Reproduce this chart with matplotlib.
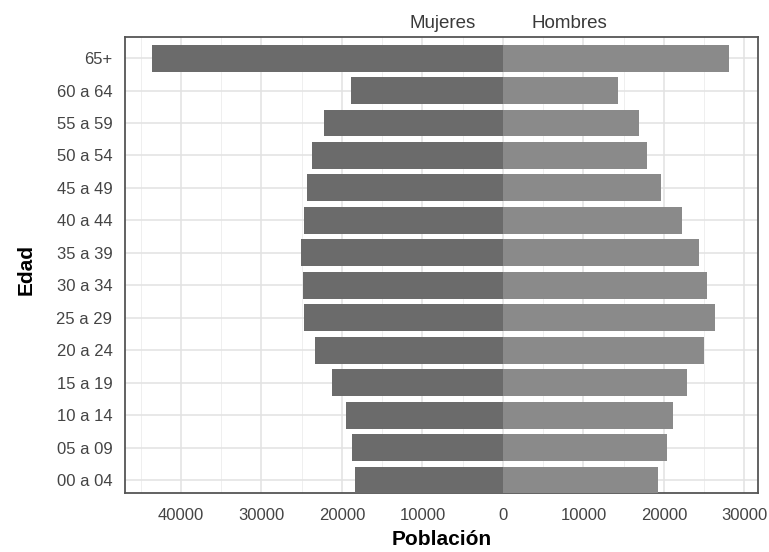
import matplotlib
matplotlib.use("Agg")
import matplotlib.pyplot as plt
import numpy as np

plt.rcParams['font.family'] = ['Liberation Sans', 'DejaVu Sans']

edades = ["00 a 04", "05 a 09", "10 a 14", "15 a 19", "20 a 24", "25 a 29", "30 a 34",
          "35 a 39", "40 a 44", "45 a 49", "50 a 54", "55 a 59", "60 a 64", "65+"]
mujeres = [18400, 18760, 19500, 21240, 23350, 24700, 24850,
           25100, 24700, 24350, 23700, 22240, 18900, 43600]
hombres = [19250, 20370, 21100, 22860, 24970, 26300, 25350,
           24350, 22240, 19600, 17900, 16900, 14300, 28070]
xticks = [-40000, -30000, -20000, -10000, 0, 10000, 20000, 30000]

fig = plt.figure(figsize=(7.69, 5.52), dpi=100)
ax = fig.add_axes([0.1625, 0.1069, 0.8232, 0.8261])

y = np.arange(len(edades))
ax.barh(y, [-v for v in mujeres], height=0.83, color="#6b6b6b", zorder=3)
ax.barh(y, hombres, height=0.83, color="#8a8a8a", zorder=3)

ax.set_xlim(-46960, 31680)
ax.set_ylim(-0.4, len(edades) - 0.35)
ax.set_yticks(y)
ax.set_yticklabels(edades)
ax.set_xticks(xticks)
ax.set_xticklabels([str(abs(v)) for v in xticks])
ax.set_xticks([v + 5000 for v in xticks[:-1]] + [-45000], minor=True)

ax.grid(which="major", color="#e2e2e2", linewidth=1.1, zorder=0)
ax.grid(which="minor", axis="x", color="#efefef", linewidth=0.7, zorder=0)
ax.set_axisbelow(True)

for s in ax.spines.values():
    s.set_color("#555555")
    s.set_linewidth(1.3)

ax.tick_params(axis="both", which="both", length=0, colors="#444444", labelsize=12)
ax.tick_params(axis="x", pad=11)
ax.tick_params(axis="y", pad=9)

ax.set_xlabel("Población", fontsize=15, fontweight="bold")
ax.set_ylabel("Edad", fontsize=15, fontweight="bold")
ax.xaxis.set_label_coords(0.5, (493 - 540) / 456)
ax.xaxis.label.set_va("center")
ax.yaxis.set_label_coords((26 - 125) / 633, 0.49)
ax.yaxis.label.set_va("center")
ax.yaxis.label.set_ha("center")

tr = ax.get_xaxis_transform()
ax.annotate("Mujeres", xy=(-7450, 1.0), xycoords=tr, xytext=(0, 6.5), textcoords="offset points",
            ha="center", va="baseline", fontsize=13.5, color="#3a3a3a", annotation_clip=False)
ax.annotate("Hombres", xy=(8200, 1.0), xycoords=tr, xytext=(0, 6.5), textcoords="offset points",
            ha="center", va="baseline", fontsize=13.5, color="#3a3a3a", annotation_clip=False)

fig.savefig("out.png", dpi=100)
